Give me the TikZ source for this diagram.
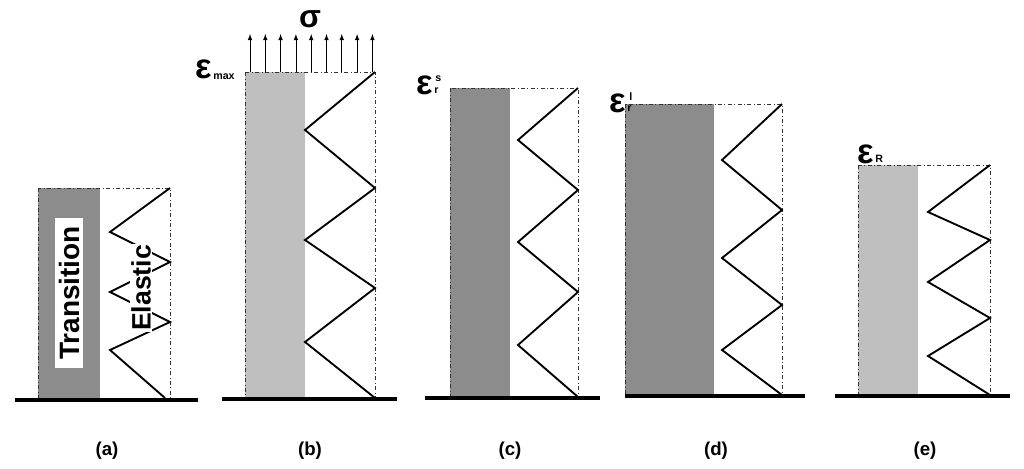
\documentclass[tikz,border=0pt]{standalone}
\usepackage{fontspec}
\setmainfont{Liberation Sans}
\begin{document}
\begin{tikzpicture}[x=0.75pt,y=-0.75pt,
  frame/.style={draw=black!80,dash dot,line width=0.6pt},
  zig/.style={draw=black,line width=1.4pt,line join=miter},
  ground/.style={line width=3pt},
  lbl/.style={font=\bfseries\fontsize{14}{16}\selectfont},
  eps/.style={font=\bfseries\fontsize{26}{28}\selectfont,inner sep=0pt},
  sub/.style={font=\bfseries\fontsize{8}{9}\selectfont,inner sep=0pt},
  up/.style={-latex,line width=0.6pt}]
\useasboundingbox (0,0) rectangle (1024,468);
% (a)
\fill[black!45] (38,188) rectangle (100,398);
\draw[frame] (38,188) rectangle (170,398);
\draw[zig] (170,188)--(110,232)--(170,262)--(110,292)--(170,322)--(110,350)--(165,398);
\node[fill=white,rotate=90,inner sep=3pt,minimum width=150pt*0.75,font=\bfseries\fontsize{21}{24}\selectfont] (ta) at (69,293) {Transition};
\node[fill=white,rotate=90,inner sep=1pt,font=\bfseries\fontsize{20}{22}\selectfont] (ea) at (141,288) {Elastic};
\draw[ground] (15,400)--(198,400);
\node[lbl] (la) at (107,451) {(a)};
% (b)
\fill[black!25] (245,72) rectangle (305,398);
\draw[frame] (245,72) rectangle (375,398);
\draw[zig] (375,72)--(305,130)--(375,188)--(305,240)--(375,288)--(305,342)--(375,398);
\foreach \i in {0,...,8} \draw[up] ({250+\i*15.3},72)--({250+\i*15.3},34);
\node[font=\bfseries\fontsize{24}{26}\selectfont,inner sep=0pt] (sig) at (310,19) {σ};
\node[eps] (eb) at (204,69) {ε};
\node[sub,anchor=west] (ebs) at (213,77) {max};
\draw[ground] (222,399)--(397,399);
\node[lbl] (lb) at (310,451) {(b)};
% (c)
\fill[black!45] (450,88) rectangle (510,397);
\draw[frame] (450,88) rectangle (578,397);
\draw[zig] (578,88)--(518,140)--(578,190)--(518,242)--(578,292)--(518,345)--(578,397);
\node[eps] (ec) at (425,85) {ε};
\node[sub,anchor=west] (ecs) at (434,91) {r};
\node[sub,anchor=west] (ecp) at (435,79) {s};
\draw[ground] (425,398)--(600,398);
\node[lbl] (lc) at (510,451) {(c)};
% (d)
\fill[black!45] (625,104) rectangle (714,395);
\draw[frame] (625,104) rectangle (782,395);
\draw[zig] (782,104)--(722,160)--(782,210)--(722,258)--(782,305)--(722,350)--(782,395);
\node[eps] (ed) at (618,103) {ε};
\node[sub,anchor=west] (eds) at (627,109) {r};
\node[sub,anchor=west] (edp) at (629,97) {l};
\draw[ground] (625,396)--(805,396);
\node[lbl] (ld) at (716,451) {(d)};
% (e)
\fill[black!25] (858,165) rectangle (918,395);
\draw[frame] (858,165) rectangle (990,395);
\draw[zig] (990,165)--(928,212)--(990,240)--(928,282)--(990,318)--(928,356)--(990,395);
\node[eps] (ee) at (866,154) {ε};
\node[sub,anchor=west] (ees) at (875,159) {R};
\draw[ground] (835,396)--(1010,396);
\node[lbl] (le) at (925,451) {(e)};
\end{tikzpicture}
\end{document}
